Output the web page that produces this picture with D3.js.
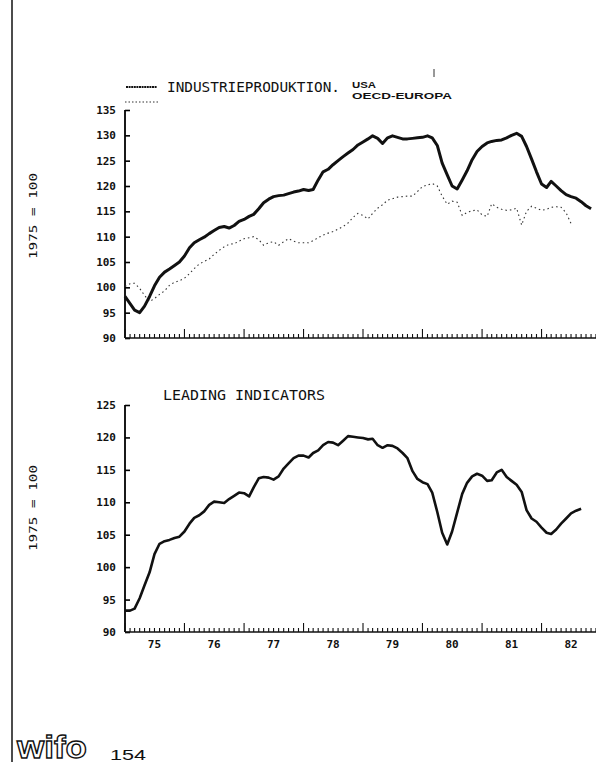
<!DOCTYPE html>
<html>
<head>
<meta charset="utf-8">
<script src="https://cdn.jsdelivr.net/npm/d3@7"></script>
<style>
  html, body { margin: 0; padding: 0; background: #fff; }
  svg { display: block; }
  text { fill: #111; }
</style>
</head>
<body>
<svg id="chart" width="596" height="765"></svg>
<script>
// Monthly index values (1975 = 100), first value = January 1975
const startYear = 1975;
const years = [75, 76, 77, 78, 79, 80, 81, 82];

const industryUSA = [
  98.2, 96.8, 95.5, 95.0, 96.3, 98.2, 100.3, 102.0, 103.0, 103.6, 104.3, 105.0,
  106.2, 107.8, 108.8, 109.4, 109.9, 110.6, 111.2, 111.8, 112.0, 111.7, 112.2, 113.0,
  113.4, 114.0, 114.4, 115.5, 116.7, 117.4, 117.9, 118.1, 118.2, 118.5, 118.8, 119.0,
  119.3, 119.1, 119.3, 121.2, 122.8, 123.3, 124.2, 125.0, 125.8, 126.5, 127.2, 128.1,
  128.7, 129.3, 129.9, 129.4, 128.4, 129.5, 129.9, 129.6, 129.3, 129.3, 129.4, 129.5,
  129.6, 129.9, 129.5, 128.0, 124.5, 122.2, 120.0, 119.4, 121.2, 123.0, 125.2, 126.8,
  127.8, 128.5, 128.8, 129.0, 129.1, 129.5, 130.0, 130.4, 129.8, 127.8, 125.3, 122.8,
  120.4, 119.7, 120.9, 120.0, 119.1, 118.3, 117.9, 117.6, 116.9, 116.1, 115.5
];

const industryOECDEurope = [
  100.2, 100.7, 100.8, 99.8, 98.4, 97.2, 97.8, 98.6, 99.3, 100.4, 101.0, 101.3,
  101.8, 102.7, 103.7, 104.6, 105.1, 105.6, 106.5, 107.3, 108.0, 108.5, 108.6, 109.1,
  109.6, 109.8, 110.0, 109.4, 108.3, 108.8, 109.0, 108.3, 109.0, 109.6, 109.1, 108.8,
  108.8, 108.8, 109.2, 109.8, 110.3, 110.7, 111.0, 111.5, 112.0, 112.7, 113.8, 114.6,
  114.2, 113.5, 114.6, 115.6, 116.3, 117.2, 117.5, 117.8, 117.9, 118.0, 118.0, 118.9,
  119.9, 120.2, 120.5, 120.0, 118.0, 116.4, 117.0, 116.8, 114.2, 114.8, 115.1, 115.3,
  114.3, 114.0, 116.5, 115.8, 115.4, 115.2, 115.3, 115.6, 112.3, 115.0, 116.0, 115.6,
  115.2, 115.4, 115.8, 115.9, 115.8, 114.7, 112.6
];

const leadingIndicators = [
  93.3, 93.3, 93.6, 95.2, 97.2, 99.2, 102.0, 103.6, 104.0, 104.2, 104.5, 104.7,
  105.5, 106.7, 107.6, 108.0, 108.6, 109.6, 110.1, 110.0, 109.9, 110.5, 111.0, 111.5,
  111.4, 110.9, 112.3, 113.7, 113.9, 113.8, 113.5, 114.0, 115.2, 116.0, 116.8, 117.2,
  117.2, 116.9, 117.6, 118.0, 118.8, 119.3, 119.2, 118.8, 119.5, 120.2, 120.1, 120.0,
  119.9, 119.7, 119.8, 118.8, 118.4, 118.8, 118.7, 118.3, 117.6, 116.8, 114.8, 113.6,
  113.1, 112.8, 111.5, 108.5, 105.3, 103.5, 105.5, 108.4, 111.3, 113.0, 114.0, 114.4,
  114.1, 113.3, 113.4, 114.6, 115.0, 113.9, 113.3, 112.7, 111.6, 108.8, 107.5, 107.0,
  106.1, 105.3, 105.1, 105.8, 106.7, 107.5, 108.3, 108.7, 109.0
];

const topTicks = [90, 95, 100, 105, 110, 115, 120, 125, 130, 135];
const bottomTicks = [90, 95, 100, 105, 110, 115, 120, 125];

const svg = d3.select("#chart");
const monoFont = "'DejaVu Sans Mono', monospace";
const sansFont = "'Liberation Sans', Arial, sans-serif";

const x = d3.scaleTime()
  .domain([new Date(startYear, 0, 1), new Date(1983, 0, 1)])
  .range([125, 601]);

const monthDate = i => new Date(startYear, i, 1);

// page edge rule and small registration mark
svg.append("line").attr("x1", 12).attr("x2", 12).attr("y1", 0).attr("y2", 762)
  .attr("stroke", "#111").attr("stroke-width", 1.5);
svg.append("line").attr("x1", 434).attr("x2", 434).attr("y1", 69).attr("y2", 77)
  .attr("stroke", "#333").attr("stroke-width", 1);

function drawPanel(y, ticks, yBottom) {
  const g = svg.append("g");
  // y axis
  const yAxis = d3.axisRight(y).tickValues(ticks).tickSize(5).tickFormat("");
  g.append("g").attr("transform", "translate(125,0)").call(yAxis)
    .call(s => s.select(".domain").attr("stroke-width", 1.8).attr("d", `M0,${y.range()[1]}V${y.range()[0]}`))
    .call(s => s.selectAll(".tick line").attr("stroke-width", 1.6));
  g.selectAll("text.ylab").data(ticks).join("text")
    .attr("class", "ylab")
    .attr("x", 116).attr("y", d => y(d) + 4)
    .attr("text-anchor", "end")
    .attr("font-family", monoFont).attr("font-weight", "bold").attr("font-size", 11)
    .text(d => d);

  // x axis: monthly minor ticks, yearly major ticks, pointing up
  const months = d3.timeMonth.range(new Date(startYear, 0, 1), new Date(1983, 0, 1));
  g.append("line").attr("x1", 125).attr("x2", 596).attr("y1", yBottom).attr("y2", yBottom)
    .attr("stroke", "#111").attr("stroke-width", 1.6);
  g.selectAll("line.mt").data(months).join("line")
    .attr("class", "mt")
    .attr("x1", d => x(d)).attr("x2", d => x(d))
    .attr("y1", yBottom)
    .attr("y2", d => yBottom - (d.getMonth() === 0 ? 9 : 4))
    .attr("stroke", "#111").attr("stroke-width", 1.1);
  return g;
}

// ---- top panel: industrial production
const yTop = d3.scaleLinear().domain([90, 135]).range([338, 110]);
drawPanel(yTop, topTicks, 338);

const lineTop = d3.line().x((d, i) => x(monthDate(i))).y(d => yTop(d));
svg.append("path").datum(industryOECDEurope)
  .attr("d", lineTop).attr("fill", "none")
  .attr("stroke", "#333").attr("stroke-width", 1.1)
  .attr("stroke-dasharray", "1.5,3");
svg.append("path").datum(industryUSA)
  .attr("d", lineTop).attr("fill", "none")
  .attr("stroke", "#111").attr("stroke-width", 3).attr("stroke-linejoin", "round");

// legend
svg.append("line").attr("x1", 126).attr("x2", 157).attr("y1", 87).attr("y2", 87)
  .attr("stroke", "#111").attr("stroke-width", 2).attr("stroke-dasharray", "2,0.6");
svg.append("line").attr("x1", 125).attr("x2", 158).attr("y1", 102).attr("y2", 102)
  .attr("stroke", "#333").attr("stroke-width", 1.2).attr("stroke-dasharray", "1.5,2");
svg.append("text").attr("x", 167).attr("y", 92)
  .attr("font-family", monoFont).attr("font-size", 13.5)
  .attr("textLength", 173).attr("lengthAdjust", "spacingAndGlyphs")
  .text("INDUSTRIEPRODUKTION.");
svg.append("text").attr("x", 352).attr("y", 88)
  .attr("font-family", sansFont).attr("font-weight", "bold").attr("font-size", 9.5)
  .attr("textLength", 24).attr("lengthAdjust", "spacingAndGlyphs")
  .text("USA");
svg.append("text").attr("x", 352).attr("y", 99)
  .attr("font-family", sansFont).attr("font-weight", "bold").attr("font-size", 9.5)
  .attr("textLength", 100).attr("lengthAdjust", "spacingAndGlyphs")
  .text("OECD-EUROPA");

// ---- bottom panel: leading indicators
const yBot = d3.scaleLinear().domain([90, 125]).range([632, 405]);
drawPanel(yBot, bottomTicks, 632);

const lineBot = d3.line().x((d, i) => x(monthDate(i))).y(d => yBot(d));
svg.append("path").datum(leadingIndicators)
  .attr("d", lineBot).attr("fill", "none")
  .attr("stroke", "#111").attr("stroke-width", 2.6).attr("stroke-linejoin", "round");

svg.append("text").attr("x", 163).attr("y", 400)
  .attr("font-family", monoFont).attr("font-size", 13.5)
  .attr("textLength", 162).attr("lengthAdjust", "spacingAndGlyphs")
  .text("LEADING INDICATORS");

// year labels
svg.selectAll("text.year").data(years).join("text")
  .attr("class", "year")
  .attr("x", d => x(new Date(1900 + d, 6, 1)))
  .attr("y", 648)
  .attr("text-anchor", "middle")
  .attr("font-family", monoFont).attr("font-weight", "bold").attr("font-size", 11)
  .text(d => d);

// rotated unit labels
[[33, 216], [33, 508]].forEach(([cx, cy]) => {
  svg.append("text")
    .attr("transform", `translate(${cx + 4},${cy}) rotate(-90)`)
    .attr("text-anchor", "middle")
    .attr("font-family", monoFont).attr("font-size", 10.5)
    .attr("textLength", 86).attr("lengthAdjust", "spacingAndGlyphs")
    .text("1975 = 100");
});

// footer: logo and page number
svg.append("text").attr("x", 17).attr("y", 758)
  .attr("font-family", sansFont).attr("font-weight", "bold").attr("font-size", 32)
  .attr("textLength", 70).attr("lengthAdjust", "spacingAndGlyphs")
  .attr("fill", "#fff").attr("stroke", "#111").attr("stroke-width", 1.3)
  .style("fill", "#fff")
  .text("wifo");
svg.append("text").attr("x", 110).attr("y", 760)
  .attr("font-family", sansFont).attr("font-size", 15)
  .attr("textLength", 36).attr("lengthAdjust", "spacingAndGlyphs")
  .text("154");
</script>
</body>
</html>
